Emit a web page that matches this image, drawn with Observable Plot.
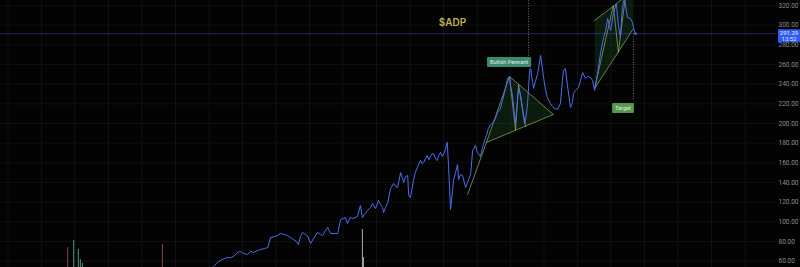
<!DOCTYPE html>
<html><head><meta charset="utf-8">
<script src="https://cdn.jsdelivr.net/npm/d3@7"></script>
<script src="https://cdn.jsdelivr.net/npm/@observablehq/plot@0.6"></script>
<style>
html,body{margin:0;padding:0;background:#030303;}
#wrap{position:relative;width:800px;height:267px;overflow:hidden;background:#030303;}
#wrap svg{position:absolute;left:0;top:0;}
</style></head><body><div id="wrap"></div>
<script>
// ---- data (decimal years, price in USD) ----
const dates = [2013.13,2013.25,2013.34,2013.46,2013.55,2013.64,2013.73,2013.85,2013.94,2014.03,2014.15,2014.24,2014.33,2014.45,2014.54,2014.66,2014.75,2014.84,2014.96,2015.04,2015.13,2015.25,2015.34,2015.43,2015.52,2015.61,2015.67,2015.73,2015.79,2015.88,2015.94,2016.03,2016.12,2016.24,2016.33,2016.39,2016.48,2016.54,2016.63,2016.72,2016.84,2016.93,2017.01,2017.07,2017.13,2017.22,2017.31,2017.43,2017.52,2017.58,2017.64,2017.73,2017.82,2017.88,2017.97,2018.06,2018.12,2018.18,2018.21,2018.27,2018.33,2018.42,2018.51,2018.57,2018.63,2018.72,2018.78,2018.81,2018.87,2018.93,2018.96,2019.01,2019.07,2019.10,2019.16,2019.22,2019.31,2019.36,2019.41,2019.46,2019.51,2019.56,2019.61,2019.66,2019.71,2019.76,2019.81,2019.86,2019.91,2019.96,2020.01,2020.06,2020.11,2020.15,2020.21,2020.27,2020.30,2020.36,2020.42,2020.45,2020.51,2020.57,2020.66,2020.75,2020.81,2020.87,2020.96,2021.01,2021.10,2021.19,2021.28,2021.34,2021.40,2021.49,2021.55,2021.61,2021.70,2021.76,2021.85,2021.91,2021.97,2022.00,2022.06,2022.12,2022.15,2022.24,2022.30,2022.36,2022.42,2022.45,2022.51,2022.57,2022.60,2022.66,2022.69,2022.75,2022.81,2022.90,2022.99,2023.04,2023.10,2023.19,2023.25,2023.31,2023.40,2023.49,2023.55,2023.58,2023.64,2023.70,2023.79,2023.85,2023.88,2023.94,2024.03,2024.09,2024.15,2024.24,2024.30,2024.39,2024.45,2024.51,2024.60,2024.69,2024.78,2024.84,2024.90,2024.99,2025.07,2025.16,2025.22,2025.28,2025.34,2025.40,2025.46,2025.49,2025.58,2025.64,2025.67,2025.73];
const prices = [54.6,58.7,60.7,62.7,63.8,63.5,64.8,68.8,69.9,67.8,66.8,69.9,68.8,70.9,71.9,72.9,73.9,84.1,85.1,86.1,88.2,87.1,86.1,84.1,82.1,80.0,77.0,85.1,89.2,87.1,86.1,78.0,83.1,89.2,87.1,86.1,91.2,94.3,88.2,88.0,88.2,102.4,103.4,104.4,98.3,104.4,103.4,105.5,116.6,104.4,107.5,111.6,114.6,118.7,113.6,121.7,117.7,114.6,109.5,114.6,118.7,133.9,139.0,136.0,134.9,150.2,144.1,140.0,146.1,147.1,126.8,124.8,134.9,142.1,150.2,155.3,162.4,159.0,160.7,164.1,167.5,163.1,166.5,169.2,169.2,164.1,162.4,167.5,170.8,166.5,169.2,174.3,181.0,157.3,112.6,131.9,142.1,150.2,158.3,143.1,148.2,147.1,134.9,143.1,148.2,172.6,177.6,170.5,166.5,178.7,187.8,194.9,199.0,201.0,205.1,211.2,215.3,223.4,235.6,245.8,247.8,238.6,228.5,208.1,201.0,236.6,228.5,213.2,200.0,203.1,220.3,253.9,255.9,241.7,235.6,243.7,250.8,269.2,245.8,235.6,226.4,220.3,217.3,215.3,214.5,220.3,243.7,253.9,255.9,238.6,216.3,221.4,230.5,233.6,236.6,243.7,251.9,245.8,247.8,246.8,243.7,233.6,250.8,272.2,287.5,294.6,306.8,294.6,311.9,322.0,299.7,287.5,318.0,327.1,314.9,307.8,306.8,302.7,297.6,291.3];

const lastPrice = 291.29;
const lastTime = "13:52";
const ticker = "$ADP";

const volDates  = [2008.78,2008.96,2009.10,2009.16,2009.22,2011.61,2017.58,2017.61];
const volValues = [7.5,10.1,6.7,3.0,1.5,8.6,14.2,3.7];
const volUp     = ["down","up","up","up","up","down","flat","flat"];

const yTicks = [60,80,100,120,140,160,180,200,220,240,260,280,300,320];
const yearTicks = d3.range(2007, 2030);

// drawn patterns (time, price)
const pennantT = [2021.28,2021.97,2023.28,2021.28];
const pennantP = [180.7,247.8,209.2,180.7];
const poleT = [2020.72,2021.28];
const poleP = [127.8,180.7];
const pennantZigT = [2021.97,2022.15,2022.24,2022.45];
const pennantZigP = [247.8,192.9,239.7,197.0];

const wedgeT = [2024.51,2025.67,2025.67,2024.51,2024.51];
const wedgeP = [304.7,335.2,296.6,235.6,304.7];
const wedgeTopT = [2024.51,2025.67]; const wedgeTopP = [304.7,335.2];
const wedgeBotT = [2024.51,2025.67]; const wedgeBotP = [235.6,296.6];
const wedgeZigT = [2024.51,2025.07,2025.22,2025.43];
const wedgeZigP = [235.6,320.0,272.2,329.1];

const dotLineT = [2022.54, 2025.67];
const dotLineTop = [330, 291.3];
const dotLineBot = [267.1, 223.4];

const labels = [
  {t:2021.97, p:262.0, text:"Bullish Pennant", color:"#3b8a6e"},
  {t:2025.37, p:215.3, text:"Target", color:"#579a4d"}
];

// ---- build ----
const series = dates.map((t,i)=>({t, p:prices[i]}));
const poly = (T,P)=>T.map((t,i)=>({t,p:P[i]}));
const xDomain = [2006.776, 2029.94];
const yDomain = [53.6, 325.07];
const W = 800, H = 267;
const patternStroke = "#86b863";
const patternFill = "#2f7d3a";

const chart = Plot.plot({
  width: W, height: H,
  marginTop: 0, marginBottom: 0, marginLeft: 0, marginRight: 24,
  style: {background: "#030303", color: "#8a8d93", fontFamily: "Roboto, sans-serif", fontSize: "6.5px"},
  x: {domain: xDomain, axis: null},
  y: {domain: yDomain, axis: null},
  marks: [
    Plot.gridX(yearTicks, {stroke: "#101010", strokeOpacity: 1}),
    Plot.gridY(yTicks, {stroke: "#101010", strokeOpacity: 1}),
    Plot.ruleY([lastPrice], {stroke: "#2a2f6e", strokeOpacity: 0.9, strokeWidth: 1}),
    Plot.line(poly(pennantT, pennantP), {x: "t", y: "p", fill: patternFill, fillOpacity: 0.2, stroke: patternStroke, strokeWidth: 0.7}),
    Plot.line(poly(poleT, poleP), {x: "t", y: "p", stroke: patternStroke, strokeWidth: 0.7}),
    Plot.line(poly(pennantZigT, pennantZigP), {x: "t", y: "p", stroke: patternStroke, strokeWidth: 0.7}),
    Plot.line(poly(wedgeT, wedgeP), {x: "t", y: "p", fill: patternFill, fillOpacity: 0.2, stroke: "none", clip: true}),
    Plot.line(poly(wedgeTopT, wedgeTopP), {x: "t", y: "p", stroke: patternStroke, strokeWidth: 0.7, clip: true}),
    Plot.line(poly(wedgeBotT, wedgeBotP), {x: "t", y: "p", stroke: patternStroke, strokeWidth: 0.7, clip: true}),
    Plot.line(poly(wedgeZigT, wedgeZigP), {x: "t", y: "p", stroke: patternStroke, strokeWidth: 0.7, clip: true}),
    Plot.ruleX(dotLineT.map((t,i)=>({t, a: dotLineTop[i], b: dotLineBot[i]})), {x: "t", y1: "a", y2: "b", stroke: "#8a8a8a", strokeWidth: 0.8, strokeDasharray: "1,1.6", clip: true}),
    Plot.line(series, {x: "t", y: "p", stroke: "#4d6cf2", strokeWidth: 1, clip: true}),
    Plot.dot([series[series.length-1]], {x: "t", y: "p", r: 1.3, fill: "#4d6cf2"}),
    Plot.axisY(yTicks, {anchor: "right", tickSize: 0, tickPadding: 2, tickFormat: d => d.toFixed(2), fill: "#8a8d93"}),
    Plot.text([ticker], {frameAnchor: "top-left", dx: 452, dy: 18, fill: "#c2b058", fontSize: 10, fontWeight: 600, textAnchor: "middle", fontFamily: "Inter, sans-serif"})
  ]
});

const vol = Plot.plot({
  width: W, height: H,
  marginTop: 0, marginBottom: 0, marginLeft: 0, marginRight: 24,
  style: {background: "transparent"},
  x: {domain: xDomain, axis: null},
  y: {domain: [0, 100], axis: null},
  color: {domain: ["up","down","flat"], range: ["#4a8a74","#853838","#95a699"]},
  marks: [
    Plot.ruleX(volDates.map((t,i)=>({t, v: volValues[i], k: volUp[i]})), {x: "t", y1: 0, y2: "v", stroke: "k", strokeWidth: 1.1})
  ]
});

const wrap = document.getElementById("wrap");
wrap.appendChild(chart);
wrap.appendChild(vol);

// annotation labels and last-price tag, positioned through the chart's scales
const sx = chart.scale("x"), sy = chart.scale("y");
const svg = d3.select(chart);
const g = svg.append("g").attr("font-family", "Roboto, sans-serif");
labels.forEach(l => {
  const cx = sx.apply(l.t), cy = sy.apply(l.p);
  const txt = g.append("text").attr("x", cx).attr("y", cy).attr("dy", "0.35em")
    .attr("text-anchor", "middle").attr("font-size", 5.5).attr("fill", "#e3ece3").text(l.text);
  const bb = txt.node().getBBox();
  g.insert("rect", () => txt.node()).attr("x", bb.x - 3).attr("y", cy - 5).attr("width", bb.width + 6).attr("height", 10)
    .attr("rx", 1).attr("fill", l.color);
});
const py = sy.apply(lastPrice);
const tag = svg.append("g").attr("font-family", "Roboto, sans-serif");
tag.append("rect").attr("x", 778).attr("y", py - 4).attr("width", 22).attr("height", 13).attr("fill", "#2f5cf0");
tag.append("text").attr("x", 789).attr("y", py).attr("dy", "0.35em").attr("text-anchor", "middle").attr("font-size", 6).attr("fill", "#e6ecff").text(lastPrice.toFixed(2));
tag.append("text").attr("x", 789).attr("y", py + 6).attr("dy", "0.35em").attr("text-anchor", "middle").attr("font-size", 6).attr("fill", "#dfe6ff").text(lastTime);
</script>
</body></html>
